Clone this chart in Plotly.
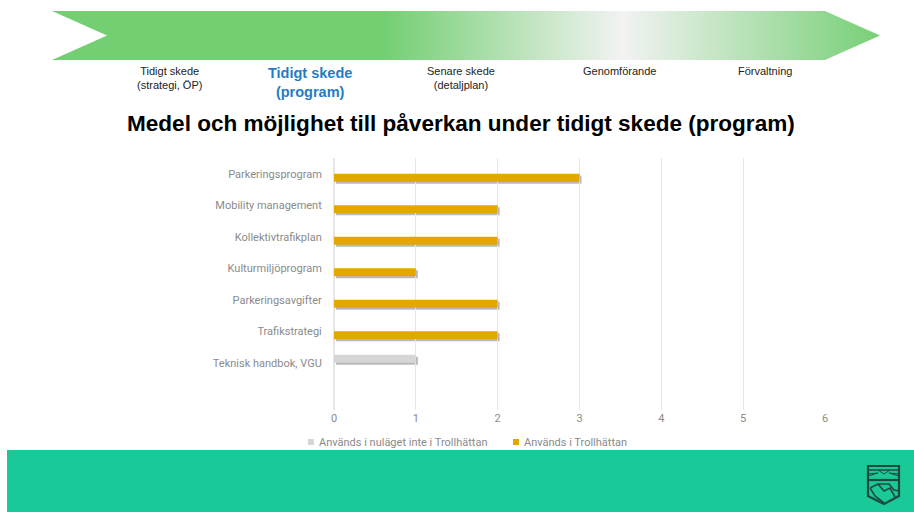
import plotly.graph_objects as go

# ---- data ----
categories = ["Parkeringsprogram", "Mobility management", "Kollektivtrafikplan",
              "Kulturmiljöprogram", "Parkeringsavgifter", "Trafikstrategi",
              "Teknisk handbok, VGU", " "]
not_used_values = [None, None, None, None, None, None, 1, None]
used_values = [3, 2, 2, 1, 2, 2, None, None]
not_used_name = "Används i nuläget inte i Trollhättan"
used_name = "Används i Trollhättan"
x_ticks = [0, 1, 2, 3, 4, 5, 6]
title_text = "Medel och möjlighet till påverkan under tidigt skede (program)"
stages = ["Tidigt skede<br>(strategi, ÖP)", "Senare skede<br>(detaljplan)", "Genomförande", "Förvaltning"]
active_stage = "Tidigt skede<br>(program)"

W, H = 914, 512
OX = 3  # the drawn plot area is inset by this many pixels on each side
GOLD, GREY = "#E2A800", "#D6D6D6"
GREEN, PALE = "#74CF73", "#F2F2F2"
TEAL = "#1AC998"
LABEL = "#8A8A8A"
DARK = "#1C4A40"
FONT = "Liberation Sans"
CHART_FONT = "Roboto"

def px(x): return (x - OX) / (W - 2 * OX)
def py(y): return 1 - y / H

# plot box in pixels
L, R, T, B = 334, 825, 158, 410
SHIFT = 2

fig = go.Figure()

# soft bar shadow (below), real bars (above)
for name, vals in [(not_used_name, not_used_values), (used_name, used_values)]:
    fig.add_bar(y=categories, x=vals, orientation="h",
                marker=dict(color="rgba(70,70,70,0.38)", line_width=0),
                xaxis="x", yaxis="y", showlegend=False, hoverinfo="skip", name=name + " skugga")
for name, vals, col in [(not_used_name, not_used_values, GREY), (used_name, used_values, GOLD)]:
    fig.add_bar(y=categories, x=vals, orientation="h", marker=dict(color=col, line_width=0),
                xaxis="x2", yaxis="y2", showlegend=False, name=name)

# process arrow with gradient
arrow_x = [52, 825, 880, 825, 52, 107, 52]
arrow_y = [11, 11, 35.5, 60, 60, 35.5, 11]
fig.add_scatter(x=arrow_x, y=arrow_y, mode="lines", line=dict(width=0), fill="toself",
                fillgradient=dict(type="horizontal", start=52, stop=880,
                                  colorscale=[[0, GREEN], [0.40, GREEN], [0.685, PALE], [1, GREEN]]),
                xaxis="x3", yaxis="y3", showlegend=False, hoverinfo="skip")

axis_hidden = dict(visible=False, fixedrange=True)
layout = dict(
    width=W, height=H, margin=dict(l=0, r=0, t=0, b=0, pad=0), autosize=False,
    paper_bgcolor="white", plot_bgcolor="rgba(0,0,0,0)",
    barmode="group", bargap=0.49, bargroupgap=0, showlegend=False,
    xaxis=dict(domain=[px(L + SHIFT), px(R + SHIFT)], range=[0, 6], anchor="y", **axis_hidden),
    yaxis=dict(domain=[py(B + SHIFT), py(T + SHIFT)], categoryorder="array", categoryarray=categories,
               autorange="reversed", anchor="x", **axis_hidden),
    xaxis2=dict(domain=[px(L), px(R)], range=[0, 6], anchor="y2", tickvals=x_ticks,
                showgrid=True, gridcolor="#E6E6E6", gridwidth=1, zeroline=True, zerolinecolor="#E6E6E6",
                showline=False, ticks="", ticklen=0,
                tickfont=dict(family=CHART_FONT, size=11, color=LABEL), fixedrange=True),
    yaxis2=dict(domain=[py(B), py(T)], categoryorder="array", categoryarray=categories,
                autorange="reversed", anchor="x2", showgrid=False, showline=False, ticks="outside",
                ticklen=9, tickcolor="rgba(0,0,0,0)", tickmode="array", tickvals=categories[:-1],
                ticktext=categories[:-1], tickfont=dict(family=CHART_FONT, size=11, color=LABEL),
                fixedrange=True),
    xaxis3=dict(domain=[0, 1], range=[OX, W - OX], anchor="y3", **axis_hidden),
    yaxis3=dict(domain=[0, 1], range=[H, 0], anchor="x3", **axis_hidden),
)

def note(x, y, text, size, color="#222222", family=FONT, bold=False, xanchor="center"):
    return dict(xref="paper", yref="paper", x=px(x), y=py(y), text=f"<b>{text}</b>" if bold else text,
                showarrow=False, xanchor=xanchor, yanchor="middle", align="center",
                font=dict(family=family, size=size, color=color))

annotations = [
    note(169, 78, stages[0], 11),
    note(310, 82.5, active_stage, 14.5, color="#1F7DC4", bold=True),
    note(461, 78, stages[1], 11),
    note(619, 71, stages[2], 11),
    note(765, 71, stages[3], 11),
    note(461, 123, title_text, 22.55, color="#000000", bold=True),
    note(317, 442, not_used_name, 11, color=LABEL, family=CHART_FONT, xanchor="left"),
    note(522, 442, used_name, 11, color=LABEL, family=CHART_FONT, xanchor="left"),
]

def rect(x0, y0, x1, y1, color):
    return dict(type="rect", xref="paper", yref="paper", x0=px(x0), x1=px(x1), y0=py(y0), y1=py(y1),
                fillcolor=color, line_width=0, layer="below")

def path(points, fill=None, width=1.5):
    d = "M" + " L".join(f"{px(a):.5f},{py(b):.5f}" for a, b in points)
    return dict(type="path", xref="paper", yref="paper", path=d + (" Z" if fill else ""),
                fillcolor=fill if fill else "rgba(0,0,0,0)",
                line=dict(color=DARK, width=width), layer="above")

shapes = [
    rect(7, 450, W + 4, H + 1, TEAL),
    rect(308, 439, 314, 445, GREY),
    rect(513, 439, 519, 445, GOLD),
    # municipal shield emblem
    path([(868, 466), (899, 466), (899, 496), (884, 504), (868, 496)], fill="rgba(0,0,0,0)", width=2.2),
    path([(868, 480), (899, 480)], width=2.2),
    path([(868, 470), (899, 470)], width=1.5),
    path([(868, 476), (878, 473), (868, 474)], width=1),
    path([(899, 476), (889, 473), (899, 474)], width=1),
    path([(878, 470), (884, 474), (890, 470)], width=1),
    path([(870, 488), (878, 484), (884, 491), (890, 488), (895, 497)], width=1.6),
    path([(878, 484), (889, 484), (894, 490), (899, 491)], width=1.6),
    path([(870, 488), (875, 496), (884, 503)], width=1.6),
]

layout["annotations"] = annotations
layout["shapes"] = shapes
fig.update_layout(**layout)

fig.write_html("out.html", config={"displayModeBar": False},
               post_script="document.body.style.margin='0';document.body.style.overflow='hidden';")
